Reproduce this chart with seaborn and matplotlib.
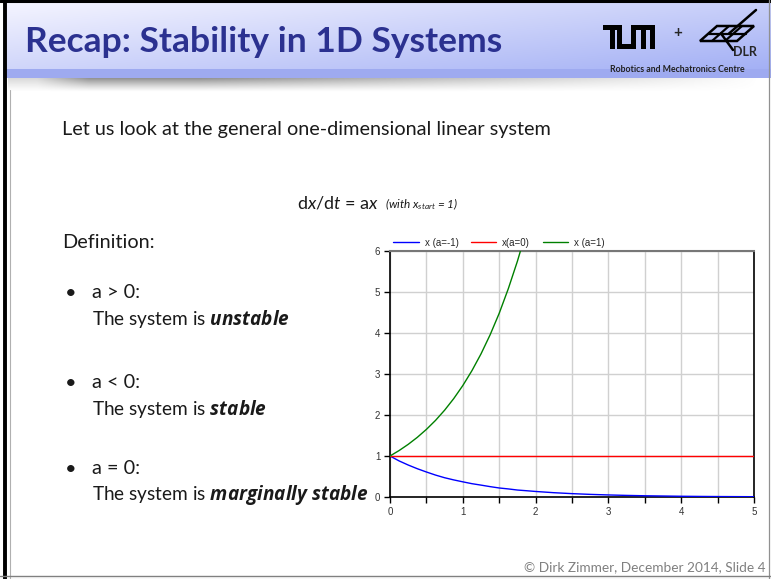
import numpy as np
import pandas as pd
import seaborn as sns
import matplotlib.pyplot as plt
from matplotlib.patches import Rectangle, Polygon

# Values
t_values = [0, 0.125, 0.25, 0.375, 0.5, 0.625, 0.75, 0.875, 1.0, 1.125, 1.25, 1.375,
            1.5, 1.625, 1.75, 1.875, 2.0, 2.25, 2.5, 2.75, 3.0, 3.25, 3.5, 3.75,
            4.0, 4.25, 4.5, 4.75, 5.0]
x_stable = [1.0, 0.88, 0.78, 0.69, 0.61, 0.535, 0.47, 0.417, 0.37, 0.325, 0.29, 0.253,
            0.22, 0.197, 0.17, 0.153, 0.135, 0.105, 0.082, 0.064, 0.05, 0.039, 0.03, 0.024,
            0.018, 0.014, 0.011, 0.009, 0.007]
x_marginal = [1.0, 1.0, 1.0, 1.0, 1.0, 1.0, 1.0, 1.0, 1.0, 1.0, 1.0, 1.0,
              1.0, 1.0, 1.0, 1.0, 1.0, 1.0, 1.0, 1.0, 1.0, 1.0, 1.0, 1.0,
              1.0, 1.0, 1.0, 1.0, 1.0]
t_unstable = [0, 0.125, 0.25, 0.375, 0.5, 0.625, 0.75, 0.875, 1.0, 1.125, 1.25,
              1.375, 1.5, 1.625, 1.75, 1.8]
x_unstable = [1.0, 1.133, 1.284, 1.455, 1.649, 1.868, 2.117, 2.399, 2.718, 3.08, 3.49,
              3.955, 4.48, 5.08, 5.75, 6.05]

series_labels = ['x (a=-1)', 'x(a=0)', 'x (a=1)']
series_colors = ['#0000ff', '#ff0000', '#008000']
x_ticks = [0, 1, 2, 3, 4, 5]
y_ticks = [0, 1, 2, 3, 4, 5, 6]

df = pd.concat([
    pd.DataFrame({'t': t_values, 'x': x_stable, 'series': series_labels[0]}),
    pd.DataFrame({'t': t_values, 'x': x_marginal, 'series': series_labels[1]}),
    pd.DataFrame({'t': t_unstable, 'x': x_unstable, 'series': series_labels[2]}),
], ignore_index=True)

sns.set_style('white')
plt.rcParams['font.family'] = ['Lato', 'DejaVu Sans']
plt.rcParams['mathtext.fontset'] = 'custom'
plt.rcParams['mathtext.rm'] = 'Lato'
plt.rcParams['mathtext.it'] = 'Lato:italic'
plt.rcParams['mathtext.bf'] = 'Open Sans:italic:bold'

W, H = 771, 579
fig = plt.figure(figsize=(W / 100, H / 100), dpi=100)

# slide background, drawn in pixel coordinates
bg = fig.add_axes([0, 0, 1, 1])
bg.axis('off')

# header gradient
xf = np.linspace(0, 1, 400)[None, :]
yf = np.linspace(0, 1, 60)[:, None]
mix = 0.55 * xf + 0.45 * yf
light = np.array([0.96, 0.96, 1.0])
dark = np.array([0.64, 0.69, 0.96])
header = light + (dark - light) * mix[..., None]
bg.imshow(header, extent=(3, W, 70, 2), aspect='auto', interpolation='bilinear')
bg.add_patch(Rectangle((3, 69), W, 9, color='#9eaaf0', lw=0))

# grey shadow under the header
sx = np.linspace(8, 768, 400)
fx = np.clip((sx - 8) / 80, 0.35, 1) * np.clip((760 - sx) / 560, 0, 1)
sy = np.linspace(0, 1, 20)[:, None]
shadow = np.zeros((20, 400, 4))
shadow[..., :3] = 0.5
shadow[..., 3] = 0.85 * fx[None, :] * (1 - sy) ** 1.2
bg.imshow(shadow, extent=(8, 768, 92, 78), aspect='auto', interpolation='bilinear')

# frame lines
bg.plot([0, W], [1, 1], color='black', lw=2.2)
bg.plot([4.5, 4.5], [0, H], color='black', lw=2.8)
bg.plot([9.5, 9.5], [90, H], color='#b0b0b0', lw=0.8)
bg.plot([768.5, 768.5], [0, H], color='#909090', lw=0.9)
bg.plot([0, W], [575.5, 575.5], color='#808080', lw=1.0)
bg.plot([0, W], [578.5, 578.5], color='#a0a0a0', lw=0.8)

# TUM logo made of blocks
ux, uy = 52 / 11, 24 / 5
x0, y0 = 603, 25
for bx0, by0, bx1, by1 in [(0, 0, 4, 1), (1.5, 0, 2.5, 5), (3, 0, 4, 5), (3, 4, 7, 5),
                           (6, 0, 7, 5), (6, 0, 11, 1), (8, 0, 9, 5), (10, 0, 11, 5)]:
    bg.add_patch(Rectangle((x0 + bx0 * ux, y0 + by0 * uy), (bx1 - bx0) * ux,
                           (by1 - by0) * uy, color='black', lw=0))
bg.text(678, 33, '+', fontsize=11, fontweight='bold', ha='center', va='center')

# DLR logo, rough line drawing
bg.add_patch(Polygon([(700, 41), (717, 26), (754, 26), (737, 41)], closed=True,
                     fill=False, ec='black', lw=1.8))
bg.plot([708.5, 745.5], [33.5, 33.5], color='black', lw=1.6)
bg.plot([729, 712], [26, 41], color='black', lw=1.6)
bg.plot([742, 725], [26, 41], color='black', lw=1.6)
bg.plot([756, 729], [10, 33.5], color='black', lw=1.8)
bg.plot([721, 733], [33.5, 50], color='black', lw=1.8)
bg.text(745, 52, 'DLR', fontsize=9, fontweight='bold', ha='center', va='center')
bg.text(677, 69, 'Robotics and Mechatronics Centre', fontsize=6.3, fontweight='bold',
        ha='center', va='center', color='#222222')

# title and slide text
bg.text(25, 42, 'Recap: Stability in 1D Systems', fontsize=25.5, fontweight='bold',
        color='#2b3190', va='center')
txt = '#1a1a1a'
fs = 14.3
bg.text(62, 129, 'Let us look at the general one-dimensional linear system',
        fontsize=fs, color=txt, va='center')
bg.text(297, 203, 'd$x$/d$t$ = a$x$', fontsize=13, color=txt, va='center')
bg.text(385, 204, '(with $x_{start}$ = 1)', fontsize=8.5, style='italic', color=txt, va='center')
bg.text(62, 242, 'Definition:', fontsize=fs, color=txt, va='center')

bullets = [('a > 0:', 'unstable', 293), ('a < 0:', 'stable', 383), ('a = 0:', 'marginally stable', 469)]
for cond, word, yb in bullets:
    bg.text(65, yb, '\u2022', fontsize=fs, color=txt, va='center')
    bg.text(92, yb, cond, fontsize=fs, color=txt, va='center')
    bg.text(92, yb + 26, 'The system is $\\mathbf{' + word.replace(' ', '\\ ') + '}$',
            fontsize=13.7, color=txt, va='center')

bg.text(766, 567, '\u00a9 Dirk Zimmer, December 2014, Slide 4', fontsize=9.8,
        color='#808080', ha='right', va='center')

bg.set_xlim(0, W)
bg.set_ylim(H, 0)

# the chart
ax = fig.add_axes([390 / W, 1 - 497 / H, 364 / W, 246 / H])
sns.lineplot(data=df, x='t', y='x', hue='series', hue_order=series_labels,
             palette=dict(zip(series_labels, series_colors)), linewidth=1,
             errorbar=None, ax=ax)
for line in ax.lines:
    line.set_zorder(3)

ax.set_xlim(x_ticks[0], x_ticks[-1])
ax.set_ylim(y_ticks[0], y_ticks[-1])
ax.set_xticks(x_ticks)
ax.set_xticks([v + 0.5 for v in x_ticks[:-1]], minor=True)
ax.set_yticks(y_ticks)
ax.set_xlabel('')
ax.set_ylabel('')
ax.set_axisbelow(True)
ax.grid(True, which='both', axis='x', color='#d0d0d0', lw=1)
ax.grid(True, which='major', axis='y', color='#d0d0d0', lw=1)
ax.tick_params(which='both', bottom=True, left=True, direction='out', length=4,
               width=1, color='black', labelsize=7, labelcolor='#333333',
               labelfontfamily='Liberation Sans', pad=3)
for side in ['left', 'bottom', 'right']:
    ax.spines[side].set_color('black')
    ax.spines[side].set_linewidth(1.2)
ax.spines['top'].set_color('#777777')
ax.spines['top'].set_linewidth(1.5)

sns.move_legend(ax, 'lower left', bbox_to_anchor=(0, 1), ncol=3, title=None,
                frameon=False, prop={'family': 'Liberation Sans', 'size': 7},
                handlelength=2.6, handletextpad=0.6, columnspacing=1.3,
                borderaxespad=0.35, borderpad=0)

fig.savefig('out.png', dpi=100)
